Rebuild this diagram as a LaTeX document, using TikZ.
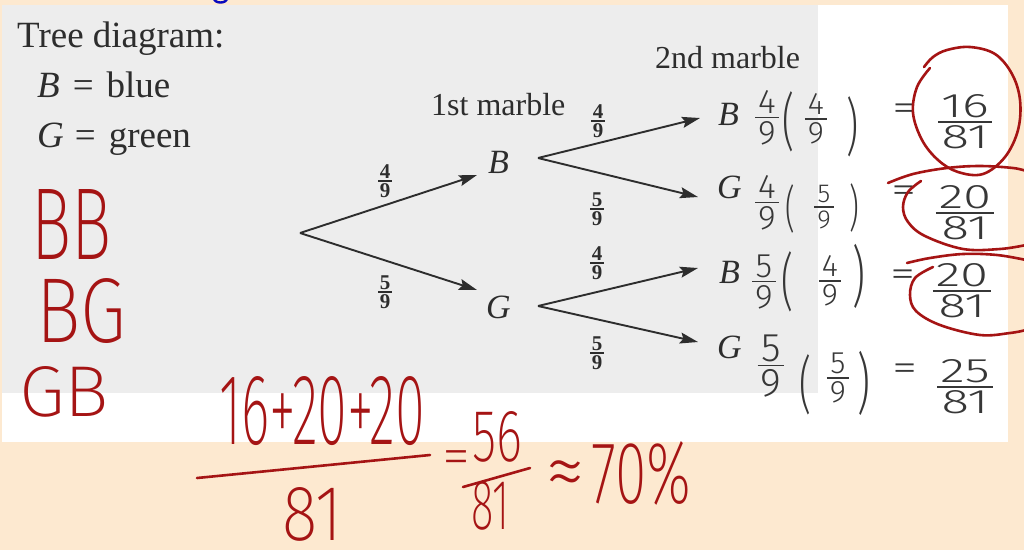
\documentclass[tikz,border=0pt]{standalone}
\usepackage{fontspec}
\usepackage{graphicx}
\setmainfont{Liberation Serif}
\IfFontExistsTF{Fira Sans ExtraLight}{\newfontfamily\handR{Fira Sans ExtraLight}}{\newfontfamily\handR{Fira Sans}}
\IfFontExistsTF{Fira Sans Light}{\newfontfamily\handG{Fira Sans Light}}{\newfontfamily\handG{Fira Sans}}
\usetikzlibrary{arrows.meta}
\definecolor{peach}{RGB}{253,233,208}
\definecolor{scan}{RGB}{237,237,237}
\definecolor{ink}{RGB}{45,45,45}
\definecolor{pen}{RGB}{165,20,20}
\definecolor{pencil}{RGB}{55,55,55}
\definecolor{bluepen}{RGB}{10,10,190}
\newcommand\tfr[2]{\vbox{\offinterlineskip\halign{\hfil\kern1.5pt##\kern1.5pt\hfil\cr#1\cr\noalign{\kern2pt\hrule height1.3pt\kern2pt}#2\cr}}}
\newcommand\hfr[2]{\vbox{\offinterlineskip\halign{\hfil\kern3pt##\kern3pt\hfil\cr#1\cr\noalign{\kern3pt\hrule height1.6pt\kern3pt}#2\cr}}}
\newcommand\wide[1]{\scalebox{1.5}[1]{#1}}
\newcommand\paren[2]{\scalebox{0.6}[1]{\fontsize{#1}{#1}\handG#2}}
\newcommand\heq{\scalebox{1.5}[1.1]{=}}
\begin{document}
\begin{tikzpicture}[x=1pt,y=-1pt,
  scantext/.style={text=ink,inner sep=0pt},
  lbl/.style={scantext,font=\fontsize{34}{36}\selectfont\itshape,anchor=base west},
  prob/.style={scantext,font=\fontsize{21}{21}\selectfont\bfseries},
  arr/.style={draw=ink,line width=1.9pt,-{Stealth[length=18pt,width=11pt,inset=3pt]}},
  pencil/.style={text=pencil,inner sep=0pt,font=\fontsize{34}{34}\handG},
  pencilsm/.style={text=pencil,inner sep=0pt,font=\fontsize{31}{31}\handG},
  pencilxs/.style={text=pencil,inner sep=0pt,font=\fontsize{26}{26}\handG},
  pencilbig/.style={text=pencil,inner sep=0pt,font=\fontsize{40}{40}\handG},
  redtext/.style={text=pen,inner sep=0pt,font=\fontsize{40}{40}\handR},
  redline/.style={draw=pen,line width=2.6pt,line cap=round,line join=round}]
\useasboundingbox (0,0) rectangle (1024,550);
\clip (0,0) rectangle (1024,550);
% backgrounds
\fill[peach] (0,0) rectangle (1024,550);
\fill[white] (2,5) rectangle (1008,442);
\fill[scan] (2,5) rectangle (818,393);
\draw[bluepen,line width=2.4pt] (214,-2) .. controls (214,4) and (227,4) .. (227,-2);
% legend
\node[scantext,anchor=base west,font=\fontsize{37}{40}\selectfont] (title) at (17,47) {Tree diagram:};
\node[scantext,anchor=base west,font=\fontsize{37}{40}\selectfont] (legB) at (37,97) {\textit{B}\hspace{13pt}=\hspace{13pt}blue};
\node[scantext,anchor=base west,font=\fontsize{37}{40}\selectfont] (legG) at (37,147) {\textit{G}\hspace{11pt}=\hspace{13pt}green};
\node[scantext,anchor=base west,font=\fontsize{32}{34}\selectfont] (first) at (431,115) {1st marble};
\node[scantext,anchor=base west,font=\fontsize{32}{34}\selectfont] (second) at (655,68) {2nd marble};
% tree nodes
\coordinate (R) at (300,233);
\node[lbl] (B1) at (488,173) {B};
\node[lbl] (G1) at (486,318) {G};
\node[lbl] (B2) at (718,125) {B};
\node[lbl] (G2) at (717,198) {G};
\node[lbl] (B3) at (719,283) {B};
\node[lbl] (G3) at (717,358) {G};
\coordinate (B1s) at (538,158);
\coordinate (G1s) at (538,306);
\coordinate (B1in) at (477,175);
\coordinate (G1in) at (477,290);
\coordinate (B2in) at (700,118);
\coordinate (G2in) at (698,197);
\coordinate (B3in) at (698,268);
\coordinate (G3in) at (698,342);
\draw[arr] (R) -- (B1in);
\draw[arr] (R) -- (G1in);
\draw[arr] (B1s) -- (B2in);
\draw[arr] (B1s) -- (G2in);
\draw[arr] (G1s) -- (B3in);
\draw[arr] (G1s) -- (G3in);
% probabilities
\node[prob] (p1) at (385,181) {\tfr{4}{9}};
\node[prob] (p2) at (385,292) {\tfr{5}{9}};
\node[prob] (p3) at (598,121) {\tfr{4}{9}};
\node[prob] (p4) at (597,209) {\tfr{5}{9}};
\node[prob] (p5) at (597,263) {\tfr{4}{9}};
\node[prob] (p6) at (597,353) {\tfr{5}{9}};
% pencil products
\node[pencil] (a1) at (767,118) {\hfr{4}{9}};
\node[pencil] (l1) at (789,122) {\paren{62}{(}};
\node[pencilsm] (b1) at (816,119) {\hfr{4}{9}};
\node[pencil] (r1) at (853,127) {\paren{62}{)}};
\node[pencil] (e1) at (905,112) {\heq};
\node[pencil] (c1) at (965,122) {\hfr{\wide{16}}{\wide{81}}};
\node[pencil] (a2) at (767,203) {\hfr{4}{9}};
\node[pencil] (l2) at (790,209) {\paren{50}{(}};
\node[pencilxs] (b2) at (824,207) {\hfr{5}{9}};
\node[pencil] (r2) at (854,208) {\paren{50}{)}};
\node[pencil] (e2) at (904,194) {\heq};
\node[pencil] (c2) at (965,213) {\hfr{\wide{20}}{\wide{81}}};
\node[pencil] (a3) at (764,282) {\hfr{5}{9}};
\node[pencil] (l3) at (788,282) {\paren{62}{(}};
\node[pencilsm] (b3) at (830,281) {\hfr{4}{9}};
\node[pencil] (r3) at (859,276) {\paren{66}{)}};
\node[pencil] (e3) at (903,278) {\heq};
\node[pencil] (c3) at (962,291) {\hfr{\wide{20}}{\wide{81}}};
\node[pencilbig] (a4) at (771,366) {\hfr{5}{9}};
\node[pencil] (l4) at (806,385) {\paren{62}{(}};
\node[pencilsm] (b4) at (838,378) {\hfr{5}{9}};
\node[pencil] (r4) at (864,383) {\paren{66}{)}};
\node[pencil] (e4) at (905,372) {\heq};
\node[pencil] (c4) at (965,387) {\hfr{\wide{25}}{\wide{81}}};
% red circles
\draw[redline] plot[smooth,tension=0.6] coordinates {(924,67) (933,57) (947,50) (970,47) (995,54) (1012,74) (1020,100) (1018,130) (1005,157) (983,174) (958,172) (938,160) (922,140) (913,113) (917,87) (930,68)};
\draw[redline] plot[smooth,tension=0.6] coordinates {(888,183) (913,174) (947,168) (980,166) (1013,168) (1026,171)};
\draw[redline] plot[smooth,tension=0.6] coordinates {(921,181) (908,192) (903,207) (908,222) (925,236) (963,249) (1000,249) (1026,245)};
\draw[redline] plot[smooth,tension=0.6] coordinates {(907,263) (930,258) (963,254) (997,255) (1026,260)};
\draw[redline] plot[smooth,tension=0.6] coordinates {(933,267) (915,278) (910,295) (916,311) (940,325) (980,335) (1010,333) (1026,330)};
% red letters
\node[redtext,anchor=south west] (BB) at (31,260) {\resizebox{80pt}{70pt}{BB}};
\node[redtext,anchor=south west] (BG) at (36,344) {\resizebox{90pt}{64pt}{BG}};
\node[redtext,anchor=south west] (GB) at (19,417) {\resizebox{90pt}{50pt}{GB}};
% red sum
\node[redtext,anchor=south west] (sum) at (219,446) {\resizebox{206pt}{68pt}{16+20+20}};
\coordinate (barL) at (197,478);
\coordinate (barR) at (430,455);
\draw[redline] (barL) -- (barR);
\node[redtext,anchor=south west] (den) at (282,542) {\resizebox{60pt}{53pt}{81}};
\node[redtext] (eq) at (456,463) {\resizebox{28pt}{!}{=}};
\node[redtext,anchor=south west] (n56) at (472,463) {\resizebox{50pt}{50pt}{56}};
\coordinate (bar2L) at (463,487);
\coordinate (bar2R) at (530,468);
\draw[redline] (bar2L) -- (bar2R);
\node[redtext,anchor=south west] (d81) at (471,530) {\resizebox{38pt}{48pt}{81}};
\node[redtext] (approx) at (565,480) {\resizebox{40pt}{!}{≈}};
\node[redtext,anchor=south west] (pct) at (591,506) {\resizebox{100pt}{62pt}{70\%}};
\end{tikzpicture}
\end{document}
